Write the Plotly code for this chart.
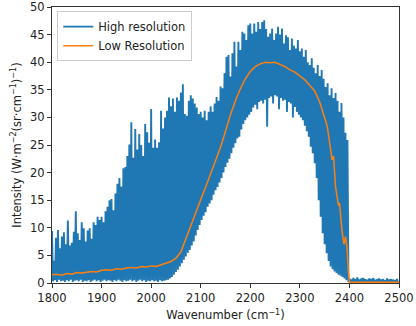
import plotly.graph_objects as go

# high resolution spectrum: alternating maxima / minima
HR_START = 1800
HR_STEP = 4
hr_peaks = [
    9.4, 4.0, 8.2, 9.6, 6.3, 8.4, 9.2, 7.0, 11.3, 6.8,
    7.3, 9.3, 13.0, 9.0, 7.8, 11.0, 9.9, 7.5, 9.5, 9.9,
    8.0, 11.0, 10.5, 12.0, 11.4, 12.0, 11.0, 13.0, 13.8, 15.0,
    15.2, 13.2, 16.2, 18.0, 19.0, 17.5, 20.8, 21.0, 23.0, 25.1,
    29.1, 22.7, 27.9, 24.2, 27.0, 25.0, 23.0, 28.8, 27.3, 25.4,
    31.5, 24.5, 26.0, 24.5, 25.5, 31.2, 28.0, 30.0, 31.2, 33.6,
    32.0, 33.4, 31.0, 33.6, 33.0, 34.5, 36.0, 30.6, 30.3, 33.0,
    34.0, 33.4, 32.5, 31.8, 30.6, 31.0, 30.0, 31.2, 29.5, 31.0,
    32.0, 31.0, 32.5, 33.7, 33.0, 35.6, 35.3, 38.0, 41.0, 41.3,
    37.4, 41.6, 43.7, 39.2, 43.7, 42.2, 45.5, 45.2, 44.0, 46.7,
    47.0, 45.2, 47.0, 45.5, 47.3, 46.0, 47.3, 47.6, 46.0, 44.6,
    45.2, 46.1, 44.0, 45.2, 46.4, 45.0, 46.1, 43.4, 44.9, 44.5,
    42.2, 44.3, 43.0, 42.5, 44.0, 42.0, 42.5, 41.0, 42.2, 40.0,
    39.5, 40.7, 39.0, 38.0, 39.5, 37.5, 38.6, 37.0, 35.5, 36.2,
    34.0, 35.3, 33.5, 34.4, 33.0, 31.0, 32.6, 30.0, 27.2, 25.9,
    0.8, 0.6, 0.9, 0.7, 1.0, 0.6, 0.8, 0.9, 0.7, 0.6,
    0.8, 0.7, 0.9, 0.6, 0.7, 0.8, 0.6, 0.7, 0.5, 0.8,
    0.6, 0.7, 0.6, 0.5, 0.7,
]
hr_troughs = [
    0.3, 0.5, 0.2, 0.6, 0.3, 0.4, 0.2, 0.5, 0.3, 0.6,
    0.2, 0.4, 0.5, 0.3, 0.6, 0.2, 0.4, 0.3, 0.5, 0.2,
    0.4, 0.6, 0.3, 0.5, 0.2, 0.4, 0.6, 0.3, 0.5, 0.4,
    0.2, 0.5, 0.3, 0.6, 0.4, 0.2, 0.5, 0.3, 0.4, 0.6,
    0.3, 0.5, 0.2, 0.4, 0.6, 0.3, 0.5, 0.2, 0.4, 0.3,
    0.5, 0.3, 0.4, 0.2, 0.5, 0.3, 0.4, 0.5, 0.6, 0.8,
    1.1, 1.5, 2.0, 2.4, 3.0, 3.6, 4.2, 4.8, 5.5, 6.0,
    6.8, 7.5, 8.6, 9.6, 10.5, 11.4, 12.2, 12.8, 13.8, 14.4,
    15.0, 16.0, 16.8, 17.4, 18.2, 19.0, 20.0, 21.0, 21.8, 22.5,
    23.5, 24.5, 25.3, 26.2, 26.5, 27.8, 28.8, 29.5, 30.0, 30.5,
    31.0, 31.8, 32.3, 31.5, 32.8, 33.0, 32.5, 33.2, 28.3, 33.5,
    33.8, 32.5, 34.0, 33.8, 31.5, 33.5, 33.0, 33.2, 31.0, 32.8,
    32.5, 30.0, 31.9, 31.0, 30.5, 30.0, 29.5, 28.5, 27.5, 26.5,
    24.7, 23.5, 21.7, 19.0, 15.0, 12.0, 9.0, 7.0, 5.4, 4.0,
    3.0, 2.5, 2.1, 1.8, 1.5, 1.3, 1.1, 0.8, 0.5, 0.2,
    0.1, 0.15, 0.1, 0.05, 0.1, 0.15, 0.1, 0.1, 0.05, 0.1,
    0.15, 0.1, 0.1, 0.05, 0.1, 0.15, 0.1, 0.05, 0.1, 0.1,
    0.1, 0.05, 0.1, 0.15, 0.1,
]

# low resolution spectrum
lr_x = [1800, 1810, 1820, 1830, 1840, 1850, 1860, 1870, 1880, 1890,
        1900, 1910, 1920, 1930, 1940, 1950, 1960, 1970, 1980, 1990,
        2000, 2010, 2020, 2030, 2040, 2050, 2060, 2070, 2080, 2090,
        2100, 2110, 2120, 2130, 2140, 2150, 2160, 2170, 2180, 2190,
        2200, 2210, 2220, 2230, 2240, 2250, 2260, 2270, 2280, 2290,
        2300, 2310, 2320, 2330, 2340, 2350, 2355, 2360, 2365, 2368,
        2372, 2378, 2380, 2385, 2389, 2392, 2395, 2398, 2400, 2420,
        2440, 2460, 2480, 2500]
lr_y = [1.5, 1.6, 1.4, 1.7, 1.6, 1.9, 1.8, 2.0, 2.1, 2.0,
        2.3, 2.4, 2.3, 2.6, 2.5, 2.7, 2.8, 2.7, 3.0, 2.9,
        3.1, 3.0, 3.3, 3.5, 3.9, 4.5, 5.6, 8.0, 10.5, 12.8,
        15.1, 17.4, 19.7, 22.0, 24.6, 27.5, 30.5, 33.0, 35.2, 37.0,
        38.3, 39.2, 39.7, 40.0, 39.9, 40.0, 39.6, 39.2, 38.6, 38.2,
        37.5, 36.8, 35.8, 34.8, 32.8, 29.8, 28.5, 25.5, 22.3, 23.0,
        17.4, 14.0, 14.5, 9.5, 7.0, 8.4, 6.6, 2.0, 0.2, 0.15,
        0.15, 0.15, 0.15, 0.15]

hr_x, hr_y = [], []
for i in range(len(hr_peaks)):
    hr_x.append(HR_START + i * HR_STEP)
    hr_y.append(hr_peaks[i])
    hr_x.append(HR_START + i * HR_STEP + HR_STEP / 2)
    hr_y.append(hr_troughs[i])

fig = go.Figure()
fig.add_trace(go.Scatter(x=hr_x, y=hr_y, mode='lines', name='High resolution',
                         line=dict(color='#1f77b4', width=1.9)))
fig.add_trace(go.Scatter(x=lr_x, y=lr_y, mode='lines', name='Low Resolution',
                         line=dict(color='#ff7f0e', width=1.5)))

axis_style = dict(showline=True, mirror=True, linecolor='#333', linewidth=1,
                  ticks='outside', ticklen=4, tickcolor='#333', showgrid=False,
                  zeroline=False, automargin=False,
                  tickfont=dict(size=11.5, color='#222'))

fig.update_layout(
    width=416, height=326,
    margin=dict(l=52, r=17, t=7, b=43),
    paper_bgcolor='white', plot_bgcolor='white',
    font=dict(family='DejaVu Sans', color='#222'),
    xaxis=dict(range=[1800, 2500], tickvals=[1800, 1900, 2000, 2100, 2200, 2300, 2400, 2500],
               title=dict(text='Wavenumber (cm<sup>−1</sup>)', font=dict(size=11.5), standoff=7),
               **axis_style),
    yaxis=dict(range=[0, 50], tickvals=[0, 5, 10, 15, 20, 25, 30, 35, 40, 45, 50],
               title=dict(text='Intensity (W·m<sup>−2</sup>(sr·cm<sup>−1</sup>)<sup>−1</sup>)',
                          font=dict(size=11.5), standoff=6),
               **axis_style),
    legend=dict(x=0.015, y=0.985, xanchor='left', yanchor='top',
                bgcolor='rgba(255,255,255,0.8)', bordercolor='#ccc', borderwidth=1,
                font=dict(size=11.5), tracegroupgap=0),
    showlegend=True,
)

# the page has a default body margin, remove it so the figure fills the window
fig.write_html("out.html", config={'displayModeBar': False},
               post_script="document.body.style.margin='0';")
